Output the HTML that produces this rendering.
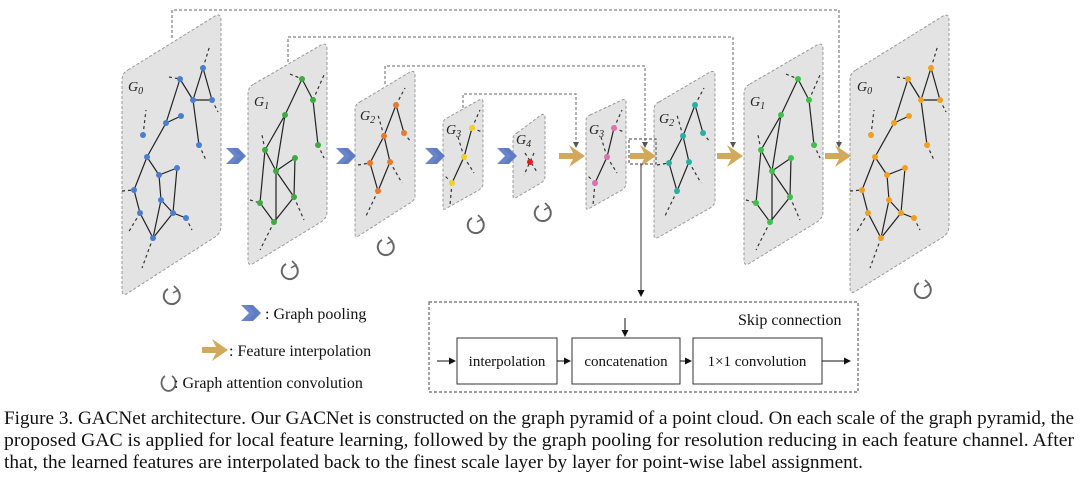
<!DOCTYPE html>
<html><head><meta charset="utf-8"><style>
html,body{margin:0;padding:0;background:#fff;}
svg{display:block;}
text{font-family:"Liberation Serif",serif;fill:#111;}
.g{font-family:"Liberation Serif",serif;font-style:italic;font-size:14px;fill:#222;}
.p{fill:#e3e3e3;stroke:#999;stroke-width:1;stroke-dasharray:3,2;}
.sk{fill:none;stroke:#666;stroke-width:1;stroke-dasharray:3,2;}
.e{stroke:#222;stroke-width:1.2;fill:none;}
.d{stroke:#333;stroke-width:1.2;stroke-dasharray:3,3;fill:none;}
</style></head><body>
<svg width="1080" height="479" viewBox="0 0 1080 479" xmlns="http://www.w3.org/2000/svg" font-family="Liberation Serif, serif">
<defs>
<marker id="ah" markerWidth="6" markerHeight="6" refX="5" refY="3" orient="auto"><path d="M0,0 L6,3 L0,6 z" fill="#555"/></marker>
<marker id="ak" markerWidth="7" markerHeight="7" refX="6" refY="3.5" orient="auto"><path d="M0,0 L7,3.5 L0,7 z" fill="#111"/></marker>
<g id="blue"><path d="M0,-8 L8,-8 L16,0 L8,8 L0,8 L8,0 z" fill="#6b86c8"/><path d="M6,-8 L12,-8 L20,0 L12,8 L6,8 L14,0 z" fill="#5f7cc2"/></g>
<g id="gold"><path d="M0,-3 L14,-3 L10,-11 L26,0 L10,11 L14,3 L0,3 z" fill="#d2a85a"/></g>
<g id="rot"><path d="M-4,-7 A8,8 0 1 0 5,-6" fill="none" stroke="#666" stroke-width="2"/><path d="M2,-10 L6,-6 L1,-3" fill="none" stroke="#666" stroke-width="1.6"/></g>
</defs>

<path class="sk" d="M172,38 V10 H839 V147" marker-end="url(#ah)"/>
<path class="sk" d="M288,62 V37 H733 V147" marker-end="url(#ah)"/>
<path class="sk" d="M385,84 V66 H645 V147" marker-end="url(#ah)"/>
<path class="sk" d="M463,108 V94 H576 V147" marker-end="url(#ah)"/>

<path class="p" d="M128,70 L215,16 Q221,13 221,20 L221,226 Q221,233 215,237 L128,293 Q122,297 122,290 L122,80 Q122,73 128,70 z"/>
<path class="p" d="M254,84 L321,45 Q327,42 327,49 L327,212 Q327,218 321,222 L254,263 Q248,267 248,260 L248,94 Q248,87 254,84 z"/>
<path class="p" d="M360,102 L410,72 Q415,70 415,75 L415,196 Q415,200 410,203 L360,235 Q355,239 355,234 L355,110 Q355,104 360,102 z"/>
<path class="p" d="M447,118 L479,100 Q483,98 483,102 L483,184 Q483,187 479,190 L447,208 Q443,211 443,207 L443,124 Q443,120 447,118 z"/>
<path class="p" d="M517,133 L541,115 Q545,113 545,117 L545,177 Q545,180 541,183 L517,197 Q513,200 513,196 L513,139 Q513,135 517,133 z"/>
<path class="p" d="M590,115 L622,100 Q626,98 626,102 L626,184 Q626,187 622,190 L590,208 Q586,211 586,207 L586,121 Q586,117 590,115 z"/>
<path class="p" d="M659,102 L710,72 Q715,70 715,75 L715,201 Q715,205 710,208 L659,237 Q654,240 654,235 L654,110 Q654,104 659,102 z"/>
<path class="p" d="M750,84 L817,45 Q823,42 823,49 L823,212 Q823,218 817,222 L750,263 Q744,267 744,260 L744,94 Q744,87 750,84 z"/>
<path class="p" d="M856,70 L943,16 Q949,13 949,20 L949,226 Q949,233 943,237 L856,291 Q850,295 850,288 L850,80 Q850,73 856,70 z"/>

<g>
<path class="e" d="M203,68 L193,100 L212,100 L203,68 M180,79 L166,123 L181,116 M193,100 L199,145 M180,79 L193,100 M166,123 L147,157 L134,190 L140,213 L153,238 L173,213 L186,218 M147,157 L159,175 L177,168 M159,175 L161,200 L153,238 M161,200 L173,213 L177,168 M134,190 L147,157"/>
<path class="d" d="M169,77 L180,79 M203,68 L210,45 M212,100 L218,112 M199,145 L206,160 M143,135 L146,110 M122,191 L134,190 M140,213 L128,233 M153,238 L142,268 M186,218 L192,230"/>
<g fill="#4a7fd0"><circle cx="180" cy="79" r="3"/><circle cx="203" cy="68" r="3"/><circle cx="193" cy="100" r="3"/><circle cx="212" cy="100" r="3"/><circle cx="181" cy="116" r="3"/><circle cx="166" cy="123" r="3"/><circle cx="143" cy="135" r="3"/><circle cx="199" cy="145" r="3"/><circle cx="147" cy="157" r="3"/><circle cx="177" cy="168" r="3"/><circle cx="159" cy="175" r="3"/><circle cx="134" cy="190" r="3"/><circle cx="161" cy="200" r="3"/><circle cx="140" cy="213" r="3"/><circle cx="173" cy="213" r="3"/><circle cx="186" cy="218" r="3"/><circle cx="153" cy="238" r="3"/></g>
</g>
<g transform="translate(728,0)">
<path class="e" d="M203,68 L193,100 L212,100 L203,68 M180,79 L166,123 L181,116 M193,100 L199,145 M180,79 L193,100 M166,123 L147,157 L134,190 L140,213 L153,238 L173,213 L186,218 M147,157 L159,175 L177,168 M159,175 L161,200 L153,238 M161,200 L173,213 L177,168 M134,190 L147,157"/>
<path class="d" d="M169,77 L180,79 M203,68 L210,45 M212,100 L218,112 M199,145 L206,160 M143,135 L146,110 M122,191 L134,190 M140,213 L128,233 M153,238 L142,268 M186,218 L192,230"/>
<g fill="#f0a020"><circle cx="180" cy="79" r="3"/><circle cx="203" cy="68" r="3"/><circle cx="193" cy="100" r="3"/><circle cx="212" cy="100" r="3"/><circle cx="181" cy="116" r="3"/><circle cx="166" cy="123" r="3"/><circle cx="143" cy="135" r="3"/><circle cx="199" cy="145" r="3"/><circle cx="147" cy="157" r="3"/><circle cx="177" cy="168" r="3"/><circle cx="159" cy="175" r="3"/><circle cx="134" cy="190" r="3"/><circle cx="161" cy="200" r="3"/><circle cx="140" cy="213" r="3"/><circle cx="173" cy="213" r="3"/><circle cx="186" cy="218" r="3"/><circle cx="153" cy="238" r="3"/></g>
</g>

<g>
<path class="e" d="M302,79 L285,115 L265,150 L260,203 L274,222 L294,197 L295,158 L276,171 L265,150 M276,171 L294,197 M276,171 L276,222 M302,79 L313,100 L318,145 M285,115 L276,171"/>
<path class="d" d="M290,74 L302,79 M313,100 L324,75 M318,145 L324,158 M265,150 L262,135 M250,200 L260,203 M294,197 L304,220 M274,222 L260,250"/>
<g fill="#3faa3f"><circle cx="302" cy="79" r="3"/><circle cx="313" cy="100" r="3"/><circle cx="318" cy="145" r="3"/><circle cx="285" cy="115" r="3"/><circle cx="265" cy="150" r="3"/><circle cx="295" cy="158" r="3"/><circle cx="276" cy="171" r="3"/><circle cx="260" cy="203" r="3"/><circle cx="294" cy="197" r="3"/><circle cx="274" cy="222" r="3"/></g>
</g>
<g transform="translate(496,0)">
<path class="e" d="M302,79 L285,115 L265,150 L260,203 L274,222 L294,197 L295,158 L276,171 L265,150 M276,171 L294,197 M276,171 L276,222 M302,79 L313,100 L318,145 M285,115 L276,171"/>
<path class="d" d="M290,74 L302,79 M313,100 L324,75 M318,145 L324,158 M265,150 L262,135 M250,200 L260,203 M294,197 L304,220 M274,222 L260,250"/>
<g fill="#3fc04a"><circle cx="302" cy="79" r="3"/><circle cx="313" cy="100" r="3"/><circle cx="318" cy="145" r="3"/><circle cx="285" cy="115" r="3"/><circle cx="265" cy="150" r="3"/><circle cx="295" cy="158" r="3"/><circle cx="276" cy="171" r="3"/><circle cx="260" cy="203" r="3"/><circle cx="294" cy="197" r="3"/><circle cx="274" cy="222" r="3"/></g>
</g>

<g>
<path class="e" d="M396,105 L384,136 L370,163 L378,191 L390,162 L384,136 M396,105 L404,133"/>
<path class="d" d="M396,105 L405,88 M404,133 L411,142 M384,136 L378,115 M358,165 L370,163 M390,162 L402,183 M378,191 L365,218"/>
<g fill="#e87a2a"><circle cx="396" cy="105" r="3"/><circle cx="404" cy="133" r="3"/><circle cx="384" cy="136" r="3"/><circle cx="370" cy="163" r="3"/><circle cx="390" cy="162" r="3"/><circle cx="378" cy="191" r="3"/></g>
</g>
<g transform="translate(299,0)">
<path class="e" d="M396,105 L384,136 L370,163 L378,191 L390,162 L384,136 M396,105 L404,133"/>
<path class="d" d="M396,105 L405,88 M404,133 L411,142 M384,136 L378,115 M358,165 L370,163 M390,162 L402,183 M378,191 L365,218"/>
<g fill="#2ab0a0"><circle cx="396" cy="105" r="3"/><circle cx="404" cy="133" r="3"/><circle cx="384" cy="136" r="3"/><circle cx="370" cy="163" r="3"/><circle cx="390" cy="162" r="3"/><circle cx="378" cy="191" r="3"/></g>
</g>

<path class="e" d="M472,128 L464,157 L452,183"/>
<path class="d" d="M472,128 L480,110 M472,128 L482,132 M464,157 L474,173 M464,157 L458,137 M452,183 L445,176 M452,183 L450,205"/>
<g fill="#f0d020"><circle cx="472" cy="128" r="3"/><circle cx="464" cy="157" r="3"/><circle cx="452" cy="183" r="3"/></g>
<path class="e" d="M614,128 L607,157 L595,183"/>
<path class="d" d="M614,128 L622,110 M614,128 L624,132 M607,157 L617,173 M607,157 L601,137 M595,183 L588,176 M595,183 L593,205"/>
<g fill="#e070b0"><circle cx="614" cy="128" r="3"/><circle cx="607" cy="157" r="3"/><circle cx="595" cy="183" r="3"/></g>
<path class="d" d="M534,153 L524,175 M525,153 L537,172"/>
<circle cx="530" cy="162" r="3" fill="#e02020"/>

<text class="g" x="128" y="91">G<tspan font-size="10" dy="3">0</tspan></text>
<text class="g" x="254" y="106">G<tspan font-size="10" dy="3">1</tspan></text>
<text class="g" x="360" y="120">G<tspan font-size="10" dy="3">2</tspan></text>
<text class="g" x="446" y="134">G<tspan font-size="10" dy="3">3</tspan></text>
<text class="g" x="516" y="144">G<tspan font-size="10" dy="3">4</tspan></text>
<text class="g" x="589" y="134">G<tspan font-size="10" dy="3">3</tspan></text>
<text class="g" x="659" y="123">G<tspan font-size="10" dy="3">2</tspan></text>
<text class="g" x="750" y="106">G<tspan font-size="10" dy="3">1</tspan></text>
<text class="g" x="857" y="91">G<tspan font-size="10" dy="3">0</tspan></text>

<use href="#blue" x="226" y="156"/>
<use href="#blue" x="336" y="156"/>
<use href="#blue" x="425" y="156"/>
<use href="#blue" x="497" y="156"/>
<use href="#gold" x="559" y="156"/>
<use href="#gold" x="630" y="156"/>
<use href="#gold" x="717" y="156"/>
<use href="#gold" x="825" y="156"/>

<rect x="629" y="139" width="27" height="25" fill="none" stroke="#666" stroke-width="1.2" stroke-dasharray="3,2"/>
<line x1="641" y1="164" x2="641" y2="296" stroke="#333" stroke-width="1" marker-end="url(#ak)"/>

<use href="#rot" x="172" y="296"/>
<use href="#rot" x="290" y="271"/>
<use href="#rot" x="386" y="247"/>
<use href="#rot" x="476" y="225"/>
<use href="#rot" x="543" y="213"/>
<use href="#rot" x="923" y="290"/>

<use href="#blue" x="241" y="313"/>
<text x="265" y="319" font-size="16">: Graph pooling</text>
<use href="#gold" x="202" y="350"/>
<text x="229" y="356" font-size="16">: Feature interpolation</text>
<path d="M165,376 A7,8 0 1 0 172,376" fill="none" stroke="#666" stroke-width="1.8"/>
<text x="174" y="388" font-size="16">: Graph attention convolution</text>

<rect x="429" y="302" width="429" height="90" fill="none" stroke="#666" stroke-width="1.2" stroke-dasharray="3,2"/>
<text x="738" y="325" font-size="16">Skip connection</text>
<rect x="457" y="338" width="100" height="46" fill="#fff" stroke="#333"/>
<rect x="572" y="338" width="108" height="46" fill="#fff" stroke="#333"/>
<rect x="693" y="338" width="129" height="46" fill="#fff" stroke="#333"/>
<text x="507" y="366" font-size="15" text-anchor="middle">interpolation</text>
<text x="626" y="366" font-size="15" text-anchor="middle">concatenation</text>
<text x="757" y="366" font-size="15" text-anchor="middle">1×1 convolution</text>
<g stroke="#111" stroke-width="1">
<line x1="437" y1="361" x2="455" y2="361" marker-end="url(#ak)"/>
<line x1="557" y1="361" x2="570" y2="361" marker-end="url(#ak)"/>
<line x1="680" y1="361" x2="691" y2="361" marker-end="url(#ak)"/>
<line x1="822" y1="361" x2="850" y2="361" marker-end="url(#ak)"/>
<line x1="625" y1="318" x2="625" y2="336" marker-end="url(#ak)"/>
</g>

<text x="4" y="424" font-size="19" textLength="1070" lengthAdjust="spacingAndGlyphs">Figure 3. GACNet architecture. Our GACNet is constructed on the graph pyramid of a point cloud. On each scale of the graph pyramid, the</text>
<text x="4" y="446" font-size="19" textLength="1070" lengthAdjust="spacingAndGlyphs">proposed GAC is applied for local feature learning, followed by the graph pooling for resolution reducing in each feature channel.  After</text>
<text x="4" y="468" font-size="19" textLength="859" lengthAdjust="spacingAndGlyphs">that, the learned features are interpolated back to the finest scale layer by layer for point-wise label assignment.</text>
</svg>
</body></html>
